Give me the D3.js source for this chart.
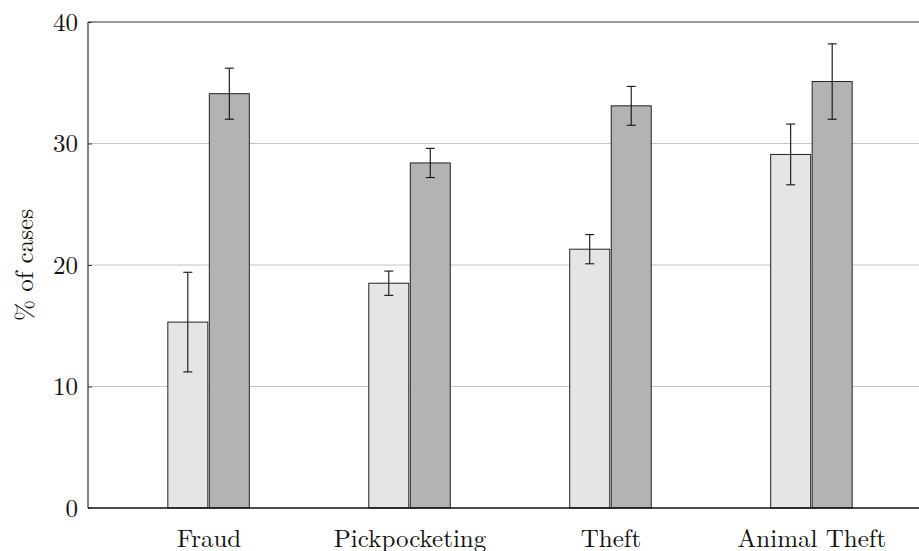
<!DOCTYPE html>
<html>
<head>
<meta charset="utf-8">
<script src="https://cdn.jsdelivr.net/npm/d3@7"></script>
<style>
  html, body { margin: 0; padding: 0; background: #fff; }
  svg { display: block; font-family: "Latin Modern Roman", "CMU Serif", "Liberation Serif", serif; }
</style>
</head>
<body>
<div id="chart"></div>
<script>
const categories = ['Fraud', 'Pickpocketing', 'Theft', 'Animal Theft'];
const lightValues = [15.3, 18.5, 21.3, 29.1];
const lightErrors = [4.1, 1.0, 1.2, 2.5];
const darkValues = [34.1, 28.4, 33.1, 35.1];
const darkErrors = [2.1, 1.2, 1.6, 3.1];
const yTicks = [0, 10, 20, 30, 40];

const width = 919, height = 551;
const margin = {top: 22, right: -13, bottom: 43, left: 88};
const innerWidth = width - margin.left - margin.right;
const innerHeight = height - margin.top - margin.bottom;
const fontSize = 25;
const fontFamily = '"Latin Modern Roman", "CMU Serif", "Liberation Serif", serif';

const svg = d3.select('#chart').append('svg')
    .attr('width', width).attr('height', height);
const g = svg.append('g').attr('transform', `translate(${margin.left},${margin.top})`);

const xScale = d3.scaleLinear().domain([-0.6, categories.length - 0.4]).range([0, innerWidth]);
const yScale = d3.scaleLinear().domain([0, 40]).range([innerHeight, 0]);
const barW = 40, gap = 1.5;

// grid lines
g.append('g').selectAll('line').data(yTicks.filter(t => t > 0 && t < 40)).join('line')
    .attr('x1', 0).attr('x2', innerWidth)
    .attr('y1', d => yScale(d)).attr('y2', d => yScale(d))
    .attr('stroke', '#c4c4c4').attr('stroke-width', 1);

const series = [
    {values: lightValues, errors: lightErrors, fill: '#e5e5e5', offset: -(barW + gap) / 2},
    {values: darkValues, errors: darkErrors, fill: '#b3b3b3', offset: (barW + gap) / 2}
];

series.forEach(s => {
    const grp = g.append('g');
    grp.selectAll('rect').data(s.values).join('rect')
        .attr('x', (d, i) => xScale(i) + s.offset - barW / 2)
        .attr('y', d => yScale(d))
        .attr('width', barW)
        .attr('height', d => yScale(0) - yScale(d))
        .attr('fill', s.fill).attr('stroke', '#222').attr('stroke-width', 1);
    const eb = grp.selectAll('g.err').data(s.values.map((v, i) => ({v, e: s.errors[i], i}))).join('g');
    eb.append('line')
        .attr('x1', d => xScale(d.i) + s.offset).attr('x2', d => xScale(d.i) + s.offset)
        .attr('y1', d => yScale(d.v + d.e)).attr('y2', d => yScale(d.v - d.e))
        .attr('stroke', '#111').attr('stroke-width', 1.1);
    [1, -1].forEach(sign => {
        eb.append('line')
            .attr('x1', d => xScale(d.i) + s.offset - 4.5).attr('x2', d => xScale(d.i) + s.offset + 4.5)
            .attr('y1', d => yScale(d.v + sign * d.e)).attr('y2', d => yScale(d.v + sign * d.e))
            .attr('stroke', '#111').attr('stroke-width', 1.1);
    });
});

// axes frame
g.append('line').attr('x1', 0).attr('x2', 0).attr('y1', 0).attr('y2', innerHeight)
    .attr('stroke', '#333').attr('stroke-width', 1.2);
g.append('line').attr('x1', 0).attr('x2', innerWidth).attr('y1', 0).attr('y2', 0)
    .attr('stroke', '#333').attr('stroke-width', 1.2);
g.append('line').attr('x1', 0).attr('x2', innerWidth).attr('y1', innerHeight).attr('y2', innerHeight)
    .attr('stroke', '#111').attr('stroke-width', 1.5);

// y axis
const yAxis = d3.axisLeft(yScale).tickValues(yTicks).tickSize(-4).tickPadding(10);
const yg = g.append('g').call(yAxis);
yg.select('.domain').remove();
yg.selectAll('.tick line').attr('stroke', '#333');
yg.selectAll('.tick text').attr('font-size', fontSize).attr('fill', '#111')
    .attr('font-family', fontFamily);

// x labels
const xg = g.append('g').attr('transform', `translate(0,${innerHeight})`)
    .call(d3.axisBottom(xScale).tickValues(d3.range(categories.length))
        .tickFormat(i => categories[i]).tickSize(0).tickPadding(21));
xg.select('.domain').remove();
xg.selectAll('.tick text').attr('font-size', fontSize).attr('fill', '#111')
    .attr('font-family', fontFamily);

g.append('text').attr('transform', 'rotate(-90)')
    .attr('x', -innerHeight / 2).attr('y', -55)
    .attr('text-anchor', 'middle').attr('font-size', fontSize).attr('fill', '#111')
    .attr('font-family', fontFamily)
    .text('% of cases');
</script>
</body>
</html>
